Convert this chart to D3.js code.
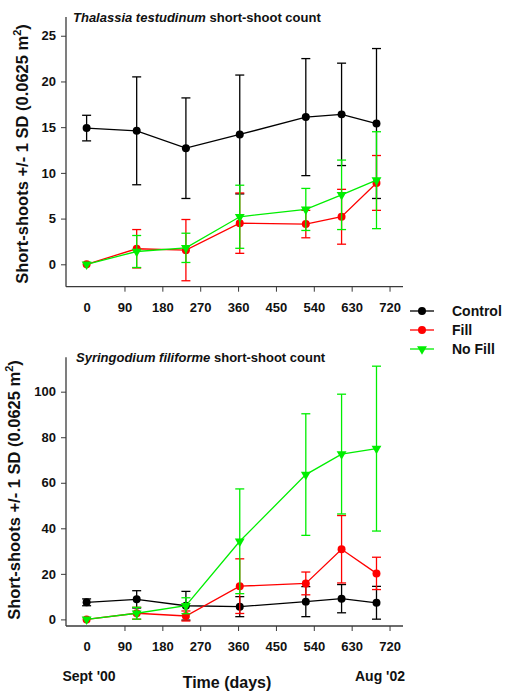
<!DOCTYPE html>
<html>
<head>
<meta charset="utf-8">
<script src="https://cdn.jsdelivr.net/npm/d3@7"></script>
<style>
  html, body { margin: 0; padding: 0; background: #fff; }
  svg { display: block; font-family: Arial, "Liberation Sans", Helvetica, sans-serif; }
</style>
</head>
<body>
<svg id="chart" width="505" height="692"></svg>
<script>
// Sampling days since Sept 2000
const days = [0, 119, 236, 364, 521, 606, 689];
const xTicks = [0, 90, 180, 270, 360, 450, 540, 630, 720];

// Thalassia testudinum short-shoot counts (mean, SD)
const thalControl   = [14.9, 14.6, 12.7, 14.2, 16.1, 16.4, 15.4];
const thalControlSD = [1.4, 5.9, 5.5, 6.5, 6.4, 5.6, 8.2];
const thalFill      = [0, 1.7, 1.55, 4.5, 4.4, 5.2, 8.9];
const thalFillSD    = [0, 2.1, 3.35, 3.3, 1.5, 3.0, 3.0];
const thalNoFill    = [0, 1.4, 1.8, 5.2, 6.0, 7.6, 9.2];
const thalNoFillSD  = [0, 1.75, 1.6, 3.45, 2.3, 3.8, 5.3];
const thalTicks = [0, 5, 10, 15, 20, 25];

// Syringodium filiforme short-shoot counts (mean, SD)
const syrControl   = [7.5, 8.8, 6.0, 5.6, 7.8, 9.1, 7.3];
const syrControlSD = [1.5, 3.8, 6.3, 4.4, 6.6, 6.2, 7.2];
const syrFill      = [0, 2.7, 1.5, 14.6, 15.8, 30.8, 20.2];
const syrFillSD    = [0, 2.6, 2.2, 12.0, 5.0, 14.8, 7.1];
const syrNoFill    = [0, 2.7, 6.0, 34.3, 63.6, 72.6, 75.0];
const syrNoFillSD  = [0, 2.6, 3.5, 23.0, 26.7, 26.3, 36.2];
const syrTicks = [0, 20, 40, 60, 80, 100];

const seriesNames = ["Control", "Fill", "No Fill"];
const seriesColors = ["#000000", "#ff0000", "#00ee00"];
const seriesShapes = ["circle", "circle", "triangle"];

const svg = d3.select("#chart");
const axisColor = "#3a3a3a";

const x = d3.scaleLinear().domain([-49, 752]).range([66, 403]);

function symbolPath(shape) {
  if (shape === "triangle") {
    return d3.symbol().type(d3.symbolTriangle).size(42)();
  }
  return d3.symbol().type(d3.symbolCircle).size(50)();
}

function drawPanel(opts) {
  const y = d3.scaleLinear().domain(opts.yDomain).range(opts.yRange);
  const g = svg.append("g");

  // y axis
  const yAxis = g.append("g")
    .attr("transform", `translate(${x.range()[0]},0)`)
    .call(d3.axisLeft(y).tickValues(opts.yTicks).tickSize(5).tickPadding(5));
  // x axis
  const xAxis = g.append("g")
    .attr("transform", `translate(0,${opts.yRange[0]})`)
    .call(d3.axisBottom(x).tickValues(xTicks).tickSize(5).tickPadding(11));
  [yAxis, xAxis].forEach(a => {
    a.select(".domain").attr("stroke", axisColor).attr("stroke-width", 1.3);
    a.selectAll(".tick line").attr("stroke", axisColor).attr("stroke-width", 1);
    a.selectAll(".tick text")
      .attr("fill", "#111")
      .style("font-size", "13px")
      .style("font-weight", "bold")
      .style("font-family", "Arial, 'Liberation Sans', sans-serif");
  });
  xAxis.select(".domain").attr("d", `M${x.range()[0]},0H${x.range()[1]}`);
  yAxis.select(".domain").attr("d", `M0,${opts.yRange[0]}V${opts.yRange[1]}`);
  xAxis.selectAll(".tick").filter(d => d === 0).select("line").remove();

  // title
  const t = g.append("text")
    .attr("x", opts.titleX)
    .attr("y", opts.titleY)
    .style("font-size", "13px")
    .style("font-weight", "bold")
    .attr("fill", "#111");
  t.append("tspan").style("font-style", "italic").text(opts.species);
  t.append("tspan").text(" short-shoot count");

  // y-axis label
  const yl = g.append("text")
    .attr("transform", `translate(${opts.yLabelX},${opts.yLabelY}) rotate(-90)`)
    .attr("text-anchor", "middle")
    .style("font-size", "16.5px")
    .style("font-weight", "bold")
    .attr("fill", "#111");
  yl.append("tspan").text("Short-shoots +/- 1 SD (0.0625 m");
  yl.append("tspan").attr("dy", -7).style("font-size", "11px").text("2");
  yl.append("tspan").attr("dy", 7).text(")");

  // series: error bars, lines, markers
  opts.series.forEach((s, i) => {
    const color = seriesColors[i];
    const sg = g.append("g");
    const pts = days.map((d, j) => ({ d, v: s.mean[j], sd: s.sd[j] }));

    const eb = sg.selectAll(".eb").data(pts.filter(p => p.sd > 0)).enter().append("g");
    eb.append("line")
      .attr("x1", p => x(p.d)).attr("x2", p => x(p.d))
      .attr("y1", p => y(p.v - p.sd)).attr("y2", p => y(p.v + p.sd))
      .attr("stroke", color).attr("stroke-width", 1.3);
    [-1, 1].forEach(sign => {
      eb.append("line")
        .attr("x1", p => x(p.d) - 4.5).attr("x2", p => x(p.d) + 4.5)
        .attr("y1", p => y(p.v + sign * p.sd)).attr("y2", p => y(p.v + sign * p.sd))
        .attr("stroke", color).attr("stroke-width", 1.3);
    });

    sg.append("path")
      .datum(pts)
      .attr("fill", "none")
      .attr("stroke", color)
      .attr("stroke-width", 1.3)
      .attr("d", d3.line().x(p => x(p.d)).y(p => y(p.v)));

    sg.selectAll(".m").data(pts).enter().append("path")
      .attr("transform", p => seriesShapes[i] === "triangle"
        ? `translate(${x(p.d)},${y(p.v)}) rotate(180)`
        : `translate(${x(p.d)},${y(p.v)})`)
      .attr("d", symbolPath(seriesShapes[i]))
      .attr("fill", color);
  });
}

drawPanel({
  species: "Thalassia testudinum",
  yDomain: [-2.45, 27.05],
  yRange: [286.7, 17],
  yTicks: thalTicks,
  titleX: 73, titleY: 22,
  yLabelX: 28, yLabelY: 154,
  series: [
    { mean: thalControl, sd: thalControlSD },
    { mean: thalFill, sd: thalFillSD },
    { mean: thalNoFill, sd: thalNoFillSD }
  ]
});

drawPanel({
  species: "Syringodium filiforme",
  yDomain: [-2.9, 115.1],
  yRange: [626, 357.3],
  yTicks: syrTicks,
  titleX: 76, titleY: 362,
  yLabelX: 20, yLabelY: 490,
  series: [
    { mean: syrControl, sd: syrControlSD },
    { mean: syrFill, sd: syrFillSD },
    { mean: syrNoFill, sd: syrNoFillSD }
  ]
});

// Legend
const legendY = [311, 330, 349];
seriesNames.forEach((name, i) => {
  const lg = svg.append("g").attr("transform", `translate(0,${legendY[i]})`);
  lg.append("line").attr("x1", 410).attr("x2", 434).attr("y1", 0).attr("y2", 0)
    .attr("stroke", seriesColors[i]).attr("stroke-width", 1.3);
  lg.append("path")
    .attr("transform", seriesShapes[i] === "triangle" ? "translate(422,0) rotate(180)" : "translate(422,0)")
    .attr("d", symbolPath(seriesShapes[i]))
    .attr("fill", seriesColors[i]);
  lg.append("text").attr("x", 452).attr("y", 5)
    .style("font-size", "14px").style("font-weight", "bold").attr("fill", "#111")
    .text(name);
});

// Time axis annotations
svg.append("text").attr("x", 89).attr("y", 681).attr("text-anchor", "middle")
  .style("font-size", "14px").style("font-weight", "bold").attr("fill", "#111").text("Sept '00");
svg.append("text").attr("x", 380).attr("y", 681).attr("text-anchor", "middle")
  .style("font-size", "14px").style("font-weight", "bold").attr("fill", "#111").text("Aug '02");
svg.append("text").attr("x", 227).attr("y", 688).attr("text-anchor", "middle")
  .style("font-size", "16px").style("font-weight", "bold").attr("fill", "#111").text("Time (days)");
</script>
</body>
</html>
